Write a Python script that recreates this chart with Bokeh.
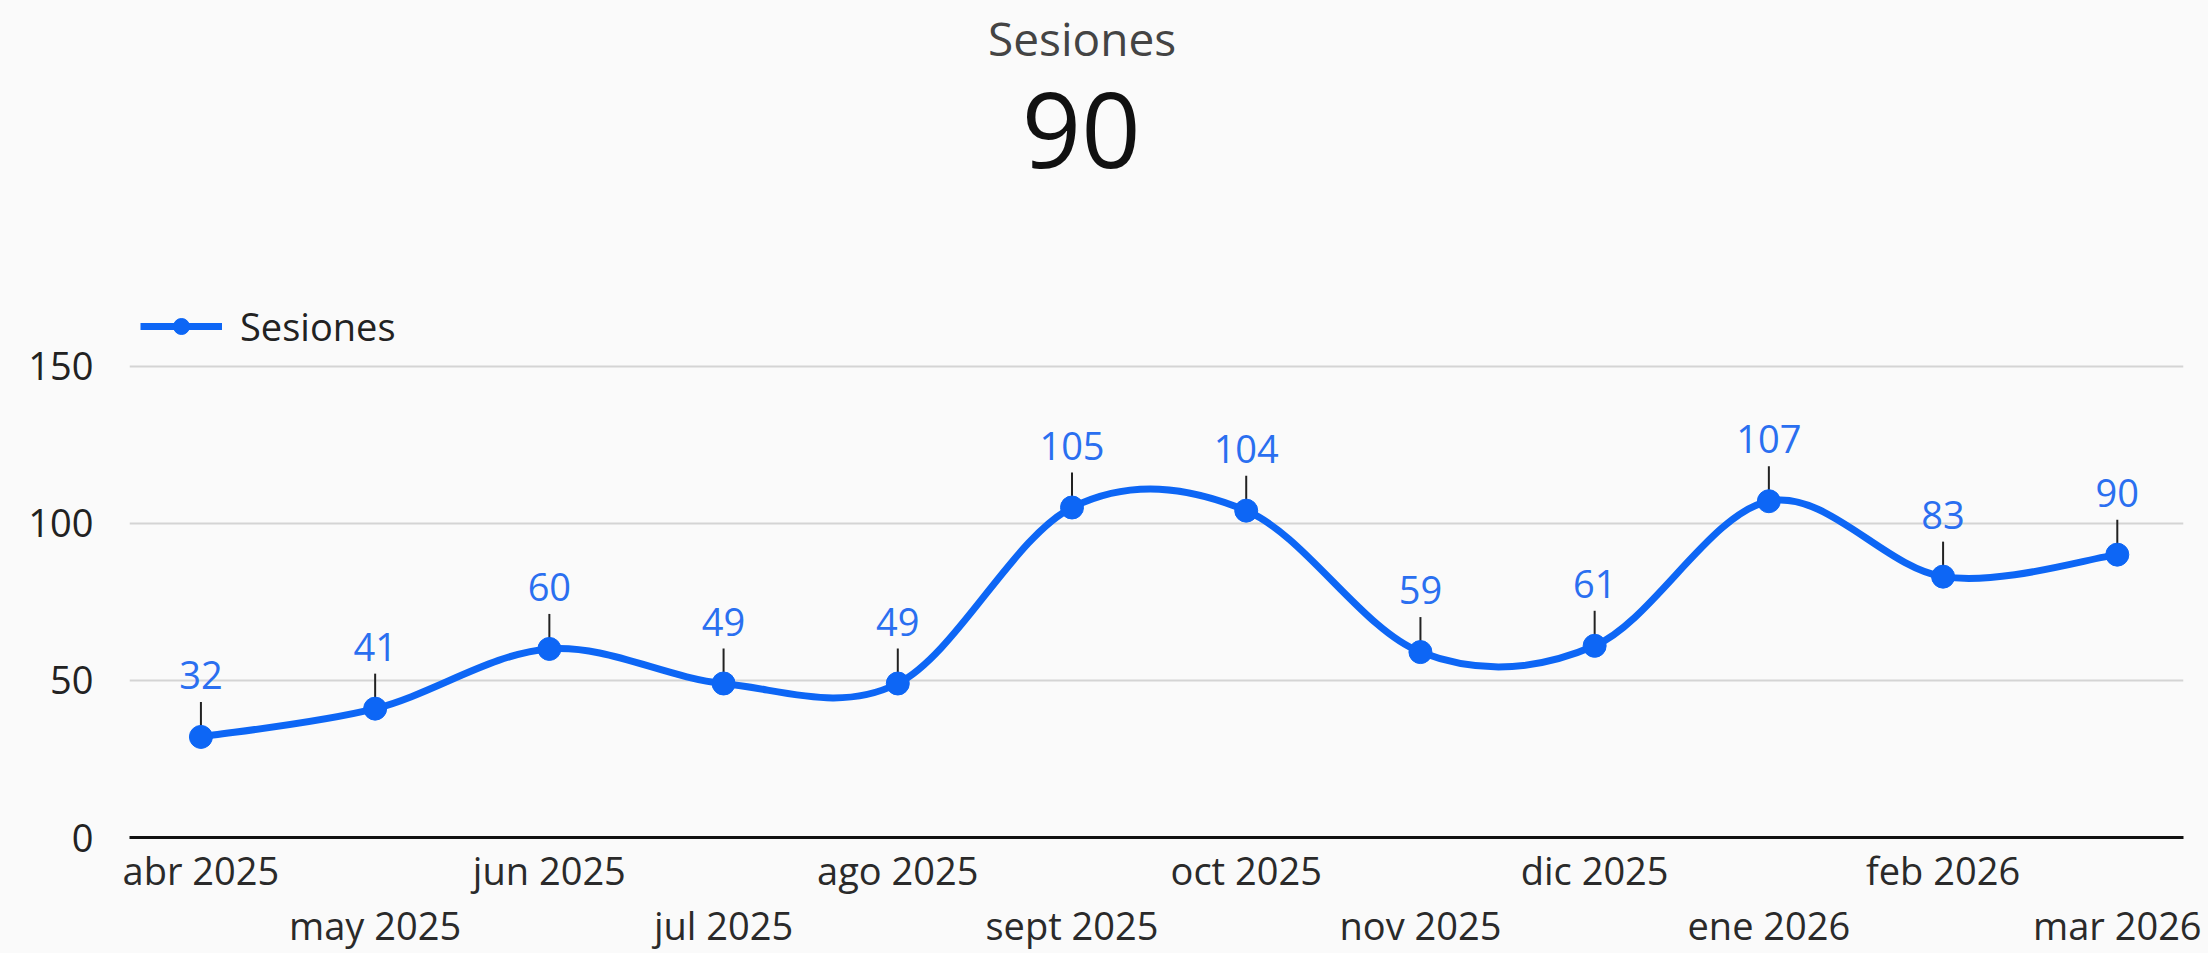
from bokeh.plotting import figure
from bokeh.layouts import column
from bokeh.models import (Range1d, FixedTicker, LinearAxis, Legend, LegendItem,
                          ColumnDataSource)
from bokeh.core.properties import value
from bokeh.embed import file_html
from bokeh.resources import INLINE

# ---- data ----
months = ["abr 2025", "may 2025", "jun 2025", "jul 2025", "ago 2025", "sept 2025",
          "oct 2025", "nov 2025", "dic 2025", "ene 2026", "feb 2026", "mar 2026"]
sessions = [32, 41, 60, 49, 49, 105, 104, 59, 61, 107, 83, 90]
y_ticks = [0, 50, 100, 150]
metric_name = "Sesiones"
scorecard_value = "90"

FONT = "Open Sans"
BLUE = "#0d66f5"
LABEL_BLUE = "#2a6ff0"
BG = "#fafafa"
W = 2208
HEADER_H = 200
MAIN_H = 753

# ---- header (scorecard) ----
hdr = figure(width=W, height=HEADER_H, output_backend="svg", toolbar_location=None,
             x_range=Range1d(0, W), y_range=Range1d(0, HEADER_H), min_border=0,
             x_axis_location=None, y_axis_location=None)
hdr.grid.visible = False
hdr.outline_line_color = None
hdr.background_fill_color = BG
hdr.border_fill_color = BG
hdr.text(x=[1024], y=[163], text=[metric_name], text_font=value(FONT), text_font_size="46px",
         text_color="#444444", text_align="center", text_baseline="middle")
hdr.text(x=[1023], y=[70], text=[scorecard_value], text_font=value(FONT), text_font_size="104px",
         text_color="#111111", text_align="center", text_baseline="middle")

# ---- main chart ----
xs = list(range(len(months)))
p = figure(width=W, height=MAIN_H, output_backend="svg", toolbar_location=None,
           x_range=Range1d(-0.41, 11.38), y_range=Range1d(0, 175),
           min_border_left=129, min_border_right=25, min_border_top=87,
           min_border_bottom=116, x_axis_location=None)
p.background_fill_color = BG
p.border_fill_color = BG
p.outline_line_color = None
p.xgrid.visible = False

# y axis
p.yaxis.ticker = FixedTicker(ticks=y_ticks)
p.yaxis.axis_line_color = None
p.yaxis.major_tick_line_color = None
p.yaxis.minor_tick_line_color = None
p.yaxis.major_tick_out = 0
p.yaxis.minor_tick_out = 0
p.yaxis.major_label_text_font = FONT
p.yaxis.major_label_text_font_size = "38px"
p.yaxis.major_label_text_color = "#222222"
p.yaxis.major_label_standoff = 36
p.ygrid.ticker = FixedTicker(ticks=[t for t in y_ticks if t > 0])
p.ygrid.grid_line_color = "#d4d4d4"
p.ygrid.grid_line_width = 2

# two staggered x axes
def make_axis(parity, line):
    ax = LinearAxis(ticker=FixedTicker(ticks=xs))
    ax.major_label_overrides = {i: (m if i % 2 == parity else "") for i, m in enumerate(months)}
    ax.major_tick_line_color = None
    ax.minor_tick_line_color = None
    ax.major_tick_out = 0
    ax.minor_tick_out = 0
    ax.major_label_text_font = FONT
    ax.major_label_text_font_size = "38px"
    ax.major_label_text_color = "#2a2a2a"
    if line:
        ax.axis_line_color = "#111111"
        ax.axis_line_width = 3
        ax.major_label_standoff = 6
    else:
        ax.axis_line_color = None
        ax.major_label_standoff = 0
    return ax

p.add_layout(make_axis(0, True), "below")
p.add_layout(make_axis(1, False), "below")

# smooth curve (Catmull-Rom -> cubic Bezier) through the data points
n = len(sessions)
x0s, y0s, x1s, y1s, cx0, cy0, cx1, cy1 = [], [], [], [], [], [], [], []
for i in range(n - 1):
    xa, ya = xs[i], sessions[i]
    xb, yb = xs[i + 1], sessions[i + 1]
    xp, yp = (xs[i - 1], sessions[i - 1]) if i > 0 else (xa, ya)
    xn, yn = (xs[i + 2], sessions[i + 2]) if i + 2 < n else (xb, yb)
    x0s.append(xa); y0s.append(ya); x1s.append(xb); y1s.append(yb)
    cx0.append(xa + (xb - xp) / 6); cy0.append(ya + (yb - yp) / 6)
    cx1.append(xb - (xn - xa) / 6); cy1.append(yb - (yn - ya) / 6)
p.bezier(x0=x0s, y0=y0s, x1=x1s, y1=y1s, cx0=cx0, cy0=cy0, cx1=cx1, cy1=cy1,
         line_color=BLUE, line_width=7, line_cap="round")

# leader ticks and value labels
px_per_unit = 550 / 175
src = ColumnDataSource(dict(x=xs, y=sessions, ytop=[v + 35 / px_per_unit for v in sessions],
                            txt=[str(v) for v in sessions]))
p.segment(x0="x", y0="y", x1="x", y1="ytop", source=src, line_color="#222222", line_width=2)
p.scatter(x="x", y="y", source=src, size=23, fill_color=BLUE, line_color=BLUE)
p.text(x="x", y="y", text="txt", source=src, text_font=value(FONT), text_font_size="38px",
       text_color=LABEL_BLUE, text_align="center", text_baseline="alphabetic", y_offset=-62)

# legend (proxy renderers that draw nothing in the plot)
nan = float("nan")
leg_line = p.line(x=[nan], y=[nan], line_color=BLUE, line_width=7)
leg_pt = p.scatter(x=[nan], y=[nan], size=20, fill_color=BLUE, line_color=BLUE)
legend = Legend(items=[LegendItem(label=metric_name, renderers=[leg_line, leg_pt])],
                location=(11, 485), padding=0, margin=0, glyph_width=82, glyph_height=40,
                label_standoff=18, label_text_font=FONT, label_text_font_size="38px",
                label_text_color="#222222", background_fill_alpha=0, border_line_color=None)
p.add_layout(legend)

layout = column(hdr, p, spacing=0, styles={"background-color": BG})
open("out.html", "w").write(file_html(layout, INLINE))
